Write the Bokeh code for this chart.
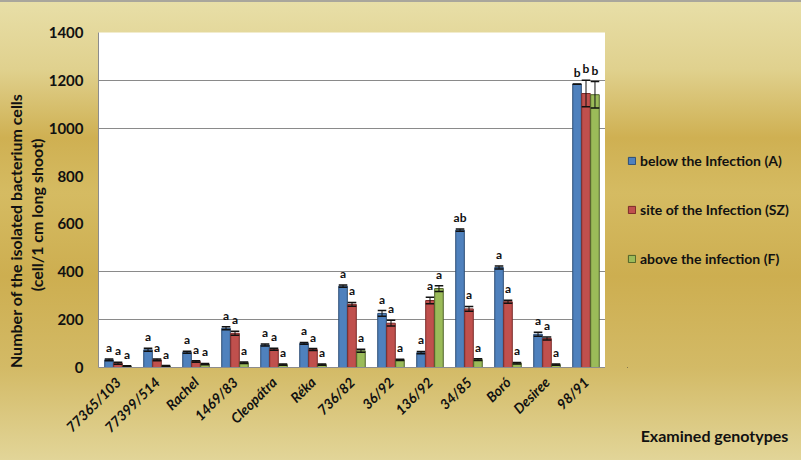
import math
from bokeh.plotting import figure
from bokeh.layouts import row
from bokeh.models import (ColumnDataSource, FactorRange, FixedTicker, Legend, LegendItem, Title, Range1d)
from bokeh.transform import dodge
from bokeh.core.properties import value
from bokeh.embed import file_html
from bokeh.resources import INLINE

genotypes = ["77365/103", "77399/514", "Rachel", "1469/83", "Cleopátra", "Réka", "736/82",
             "36/92", "136/92", "34/85", "Boró", "Desiree", "98/91"]
below_A = [32, 74, 64, 164, 94, 101, 340, 226, 62, 574, 418, 139, 1184]
site_SZ = [18, 32, 25, 143, 76, 75, 264, 185, 280, 245, 275, 121, 1145]
above_F = [5, 6, 14, 20, 12, 12, 70, 32, 330, 33, 18, 12, 1140]
err_A = [4, 6, 4, 6, 4, 4, 5, 12, 5, 5, 6, 8, 0]
err_SZ = [4, 4, 3, 8, 4, 4, 8, 12, 14, 10, 6, 6, 55]
err_F = [2, 2, 3, 3, 3, 3, 6, 3, 12, 4, 3, 3, 55]
let_A = ["a"] * 9 + ["ab", "a", "a", "b"]
let_SZ = ["a"] * 12 + ["b"]
let_F = ["a"] * 12 + ["b"]
series_names = ["below the Infection (A)", "site of the Infection (SZ)", "above the infection (F)"]
x_title = "Examined genotypes"
y_title_1 = "Number of the isolated bacterium cells"
y_title_2 = "(cell/1 cm long shoot)"
y_ticks = [0, 200, 400, 600, 800, 1000, 1200, 1400]
grid_lines = [200, 400, 1000, 1200]

fills = ["#4F81BD", "#C0504D", "#9BBB59"]
edges = ["#2C4D75", "#7A2B29", "#4F6228"]
offsets = [-0.23, 0.0, 0.23]
FONT = "Lato"
INK = "#111111"

data = dict(cats=genotypes)
for k, (v, e, l) in enumerate([(below_A, err_A, let_A), (site_SZ, err_SZ, let_SZ), (above_F, err_F, let_F)]):
    data[f"v{k}"] = v
    data[f"hi{k}"] = [a + b for a, b in zip(v, e)]
    data[f"lo{k}"] = [a - b for a, b in zip(v, e)]
    data[f"l{k}"] = l
src = ColumnDataSource(data)

p = figure(width=605, height=460, x_range=FactorRange(*genotypes, range_padding=0),
           y_range=(0, 1400), output_backend="svg", toolbar_location=None,
           min_border_left=98, min_border_right=0, min_border_top=32, min_border_bottom=93)
p.border_fill_alpha = 0
p.background_fill_color = "white"
p.outline_line_color = None

for k in range(3):
    off = offsets[k]
    p.vbar(x=dodge("cats", off, range=p.x_range), top=f"v{k}", width=0.22, source=src,
           fill_color=fills[k], line_color=edges[k], line_width=1)
    p.segment(x0=dodge("cats", off, range=p.x_range), y0=f"lo{k}",
              x1=dodge("cats", off, range=p.x_range), y1=f"hi{k}", source=src,
              line_color=INK, line_width=1)
    for cap in (f"lo{k}", f"hi{k}"):
        p.segment(x0=dodge("cats", off - 0.11, range=p.x_range), y0=cap,
                  x1=dodge("cats", off + 0.11, range=p.x_range), y1=cap, source=src,
                  line_color=INK, line_width=1.5)
    p.text(x=dodge("cats", off, range=p.x_range), y=f"hi{k}", text=f"l{k}", source=src,
           text_align="center", text_baseline="bottom", y_offset=-4,
           text_font=value(FONT), text_font_size="12px", text_font_style="bold", text_color=INK)

p.ygrid.ticker = FixedTicker(ticks=grid_lines)
p.ygrid.grid_line_color = "#8A8A8A"
p.xgrid.grid_line_color = None

p.yaxis.ticker = FixedTicker(ticks=y_ticks)
p.yaxis.major_tick_line_color = None
p.yaxis.minor_tick_line_color = None
p.yaxis.major_tick_out = 0
p.yaxis.minor_tick_out = 0
p.yaxis.axis_line_color = "#8C8C8C"
p.yaxis.major_label_text_font = FONT
p.yaxis.major_label_text_font_size = "15px"
p.yaxis.major_label_text_font_style = "bold"
p.yaxis.major_label_text_color = INK
p.yaxis.major_label_standoff = 15

p.xaxis.major_tick_line_color = None
p.xaxis.axis_line_color = "#8C8C8C"
p.xaxis.major_label_orientation = math.pi / 4
p.xaxis.major_label_text_font = FONT
p.xaxis.major_label_text_font_size = "14px"
p.xaxis.major_label_text_font_style = "bold italic"
p.xaxis.major_label_text_color = INK
p.xaxis.major_label_standoff = 6

for t, off in ((y_title_2, 106), (y_title_1, 61)):
    p.add_layout(Title(text=t, align="right", offset=off, standoff=0,
                       text_font=FONT, text_font_size="16px", text_font_style="bold",
                       text_color=INK), "left")

# side panel holding the legend and the x-axis title
q = figure(width=196, height=460, x_range=Range1d(0, 1), y_range=Range1d(0, 1),
           output_backend="svg", toolbar_location=None,
           min_border_left=22, min_border_right=0, min_border_top=0, min_border_bottom=0,
           x_axis_location="below", y_axis_location=None)
q.border_fill_alpha = 0
q.background_fill_alpha = 0
q.outline_line_color = None
q.grid.visible = False
q.xaxis.ticker = FixedTicker(ticks=[])
q.xaxis.axis_line_color = None
q.xaxis.major_tick_out = 0
q.xaxis.minor_tick_out = 0
q.xaxis.major_tick_line_color = None
q.xaxis.minor_tick_line_color = None
q.xaxis.axis_label = x_title
q.xaxis.axis_label_standoff = 58
q.xaxis.axis_label_text_font = FONT
q.xaxis.axis_label_text_font_size = "16px"
q.xaxis.axis_label_text_font_style = "bold"
q.xaxis.axis_label_text_color = INK

dummy = ColumnDataSource(dict(x=[-9], top=[-9]))
dummies = [q.vbar(x="x", top="top", width=0.1, source=dummy, fill_color=fills[k], line_color=edges[k])
           for k in range(3)]
legend = Legend(items=[LegendItem(label=n, renderers=[r]) for n, r in zip(series_names, dummies)],
                location=(0, 100), padding=0, margin=0, spacing=32, label_height=16,
                glyph_width=9, glyph_height=9, label_standoff=4,
                label_text_font=FONT, label_text_font_size="14px", label_text_font_style="bold",
                label_text_color=INK, border_line_alpha=0, background_fill_alpha=0)
q.add_layout(legend)

layout = row(p, q, spacing=0)
html = file_html(layout, INLINE)
style = ("<style>html,body{margin:0;padding:0;height:100%;}"
         "body{background:linear-gradient(#A9A69C 0px,#A9A69C 2px,transparent 2px),"
         "linear-gradient(180deg,#E8DFA8 0%,#E0D18E 15%,#CFB052 30%,#D5BB62 42%,#CDAE50 60%,"
         "#D3BA66 80%,#E2D598 100%);}</style>")
html = html.replace("</head>", style + "</head>", 1)
open("out.html", "w").write(html)
